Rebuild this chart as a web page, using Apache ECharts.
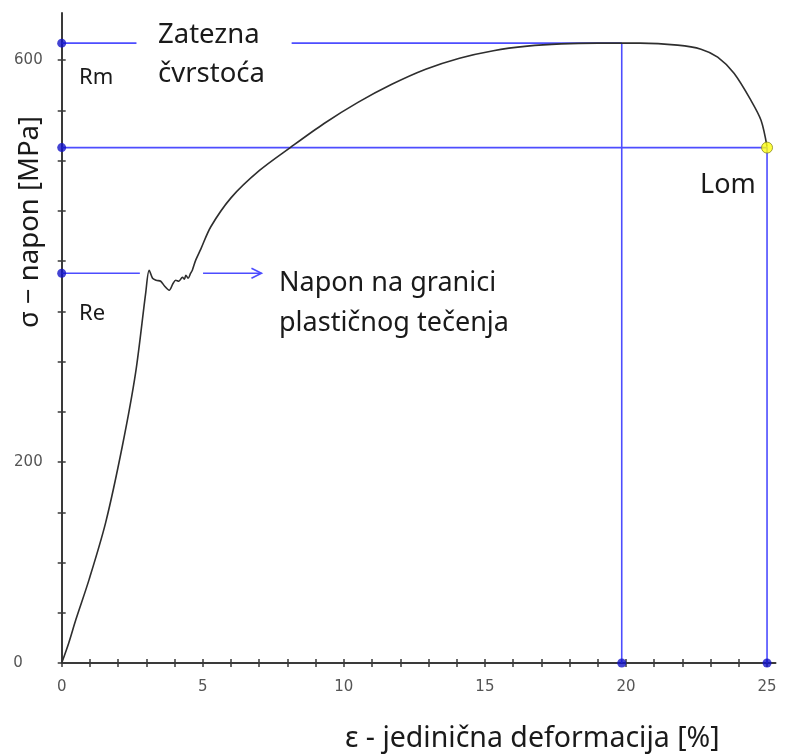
<!DOCTYPE html>
<html><head><meta charset="utf-8">
<script src="https://cdn.jsdelivr.net/npm/echarts@6/dist/echarts.min.js"></script>
<style>html,body{margin:0;padding:0;background:#fff}#c{width:787px;height:755px}</style>
</head><body><div id="c"></div>
<script>
// ---- data ----
const strain = [0, 0.25, 0.5, 0.97, 1.56, 2.15, 2.62, 2.98, 3.10, 3.22, 3.35, 3.51, 3.65, 3.81, 3.95, 4.04, 4.15, 4.28, 4.35, 4.40, 4.48, 4.57, 4.63, 4.75, 4.93, 5.28, 6.0, 7.0, 8.1, 9.3, 10.5, 11.7, 12.9, 14.1, 15.3, 16.5, 17.7, 19.0, 20.5, 21.83, 22.66, 23.25, 23.83, 24.43, 24.79, 25.0];
const stress = [0, 20, 43, 83, 140, 216, 289, 369, 391, 383, 381, 380, 375, 371, 378, 381, 380, 384, 382, 386, 383, 388, 391, 401, 412, 434, 463, 490, 513, 537, 558, 576, 591, 602, 609.5, 614, 616.3, 617, 617, 615, 611, 603, 587, 560, 540, 514];
const xTickValues = [0,1,2,3,4,5,6,7,8,9,10,11,12,13,14,15,16,17,18,19,20,21,22,23,24,25];
const xLabelValues = [0, 5, 10, 15, 20, 25];
const yTickValues = [0,50,100,150,200,250,300,350,400,450,500,550,600];
const yLabelValues = [0, 200, 600];
const Rm = 617;            // tensile strength
const Re = 388;            // yield stress
const fractureStress = 513;
const RmStrain = 19.85;
const fractureStrain = 25;
const RmLineSegments = [[0, 2.65], [8.15, RmStrain]];
const ReLineEnd = 2.77;
const arrowRange = [5.01, 7.08];

// ---- chart ----
const curve = strain.map((x, i) => [x, stress[i]]);
const BLUE = '#4d4dff';
const DOT = '#1414c8';
const chart = echarts.init(document.getElementById('c'), null, {renderer: 'canvas'});

function axisBase() {
  return {type: 'value', min: 0};
}
const labelFont = {fontFamily: 'DejaVu Sans', fontSize: 15, color: '#555'};
const TXT = '#1a1a1a';

const option = {
  backgroundColor: '#fff',
  animation: false,
  grid: {left: 61.7, right: 11.5, top: 13, bottom: 92},
  xAxis: [
    Object.assign(axisBase(), {
      max: 25.3, position: 'bottom',
      axisLine: {show: true, lineStyle: {color: '#3a3a3a', width: 2}},
      axisTick: {show: true, customValues: xTickValues, length: 4, inside: false, lineStyle: {color: '#3a3a3a', width: 1.5}},
      axisLabel: Object.assign({show: true, customValues: xLabelValues, margin: 17}, labelFont),
      splitLine: {show: false}
    }),
    Object.assign(axisBase(), {
      max: 25.3, position: 'bottom',
      axisLine: {show: false},
      axisTick: {show: true, customValues: xTickValues, length: 4, inside: true, lineStyle: {color: '#3a3a3a', width: 1.5}},
      axisLabel: {show: false},
      splitLine: {show: false}
    })
  ],
  yAxis: [
    Object.assign(axisBase(), {
      max: 647, position: 'left',
      axisLine: {show: true, lineStyle: {color: '#3a3a3a', width: 2}},
      axisTick: {show: true, customValues: yTickValues, length: 4, inside: false, lineStyle: {color: '#3a3a3a', width: 1.5}},
      axisLabel: Object.assign({show: true, customValues: yLabelValues, margin: 19,
        formatter: v => v === 0 ? '{z|0}' : String(v),
        rich: {z: {fontFamily: 'DejaVu Sans', fontSize: 15, color: '#555', padding: [0, 20, 0, 0]}}}, labelFont),
      splitLine: {show: false}
    }),
    Object.assign(axisBase(), {
      max: 647, position: 'left',
      axisLine: {show: false},
      axisTick: {show: true, customValues: yTickValues, length: 4, inside: true, lineStyle: {color: '#3a3a3a', width: 1.5}},
      axisLabel: {show: false},
      splitLine: {show: false}
    })
  ],
  series: [
    // guide lines
    ...RmLineSegments.map(seg => ({
      type: 'line', clip: false, symbol: 'none', z: 3,
      lineStyle: {color: BLUE, width: 1.6},
      data: [[seg[0], Rm], [seg[1], Rm]]
    })),
    {type: 'line', clip: false, symbol: 'none', z: 3, lineStyle: {color: BLUE, width: 1.6},
     data: [[RmStrain, Rm], [RmStrain, 0]]},
    {type: 'line', clip: false, symbol: 'none', z: 3, lineStyle: {color: BLUE, width: 1.6},
     data: [[0, fractureStress], [fractureStrain, fractureStress], [fractureStrain, 0]]},
    {type: 'line', clip: false, symbol: 'none', z: 3, lineStyle: {color: BLUE, width: 1.6},
     data: [[0, Re], [ReLineEnd, Re]]},
    {type: 'line', clip: false, symbol: 'none', showSymbol: true, z: 3, lineStyle: {color: BLUE, width: 1.6},
     data: [
       [arrowRange[0], Re],
       {value: [arrowRange[1], Re], symbol: 'path://M0,0L10,5L0,10', symbolSize: [10, 10], symbolOffset: [-5, 0],
        itemStyle: {color: 'rgba(0,0,0,0)', borderColor: BLUE, borderWidth: 1.6}}
     ]},
    // stress-strain curve
    {type: 'line', clip: false, symbol: 'none', smooth: 0.3, z: 4,
     lineStyle: {color: '#2e2e2e', width: 1.6}, data: curve},
    // dots
    {type: 'scatter', z: 6, symbolSize: 9, itemStyle: {color: DOT},
     data: [[0, Rm], [0, fractureStress], [0, Re], [RmStrain, 0], [fractureStrain, 0]]},
    {type: 'scatter', z: 7, symbolSize: 11, itemStyle: {color: '#ffff10', borderColor: '#8a8a20', borderWidth: 1},
     data: [[fractureStrain, fractureStress]]}
  ],
  graphic: [
    {type: 'text', left: 158, top: 21, style: {text: 'Zatezna', font: '27.5px "Noto Sans"', fill: TXT}},
    {type: 'text', left: 158, top: 60, style: {text: 'čvrstoća', font: '27.5px "Noto Sans"', fill: TXT}},
    {type: 'text', left: 79, top: 67, style: {text: 'Rm', font: '22px "Noto Sans"', fill: TXT}},
    {type: 'text', left: 79, top: 303, style: {text: 'Re', font: '22px "Noto Sans"', fill: TXT}},
    {type: 'text', left: 700, top: 172, style: {text: 'Lom', font: '27px "Noto Sans"', fill: TXT}},
    {type: 'text', left: 279, top: 270, style: {text: 'Napon na granici', font: '27px "Noto Sans"', fill: TXT}},
    {type: 'text', left: 279, top: 310, style: {text: 'plastičnog tečenja', font: '27px "Noto Sans"', fill: TXT}},
    {type: 'text', left: 345, top: 724, style: {text: 'ε - jedinična deformacija [%]', font: '28.5px "Noto Sans"', fill: TXT}},
    {type: 'text', x: 30, y: 222, rotation: Math.PI / 2,
     style: {text: 'σ − napon [MPa]', font: '27.5px "Noto Sans"', fill: TXT, align: 'center', verticalAlign: 'middle'}}
  ]
};
chart.setOption(option);
</script></body></html>
